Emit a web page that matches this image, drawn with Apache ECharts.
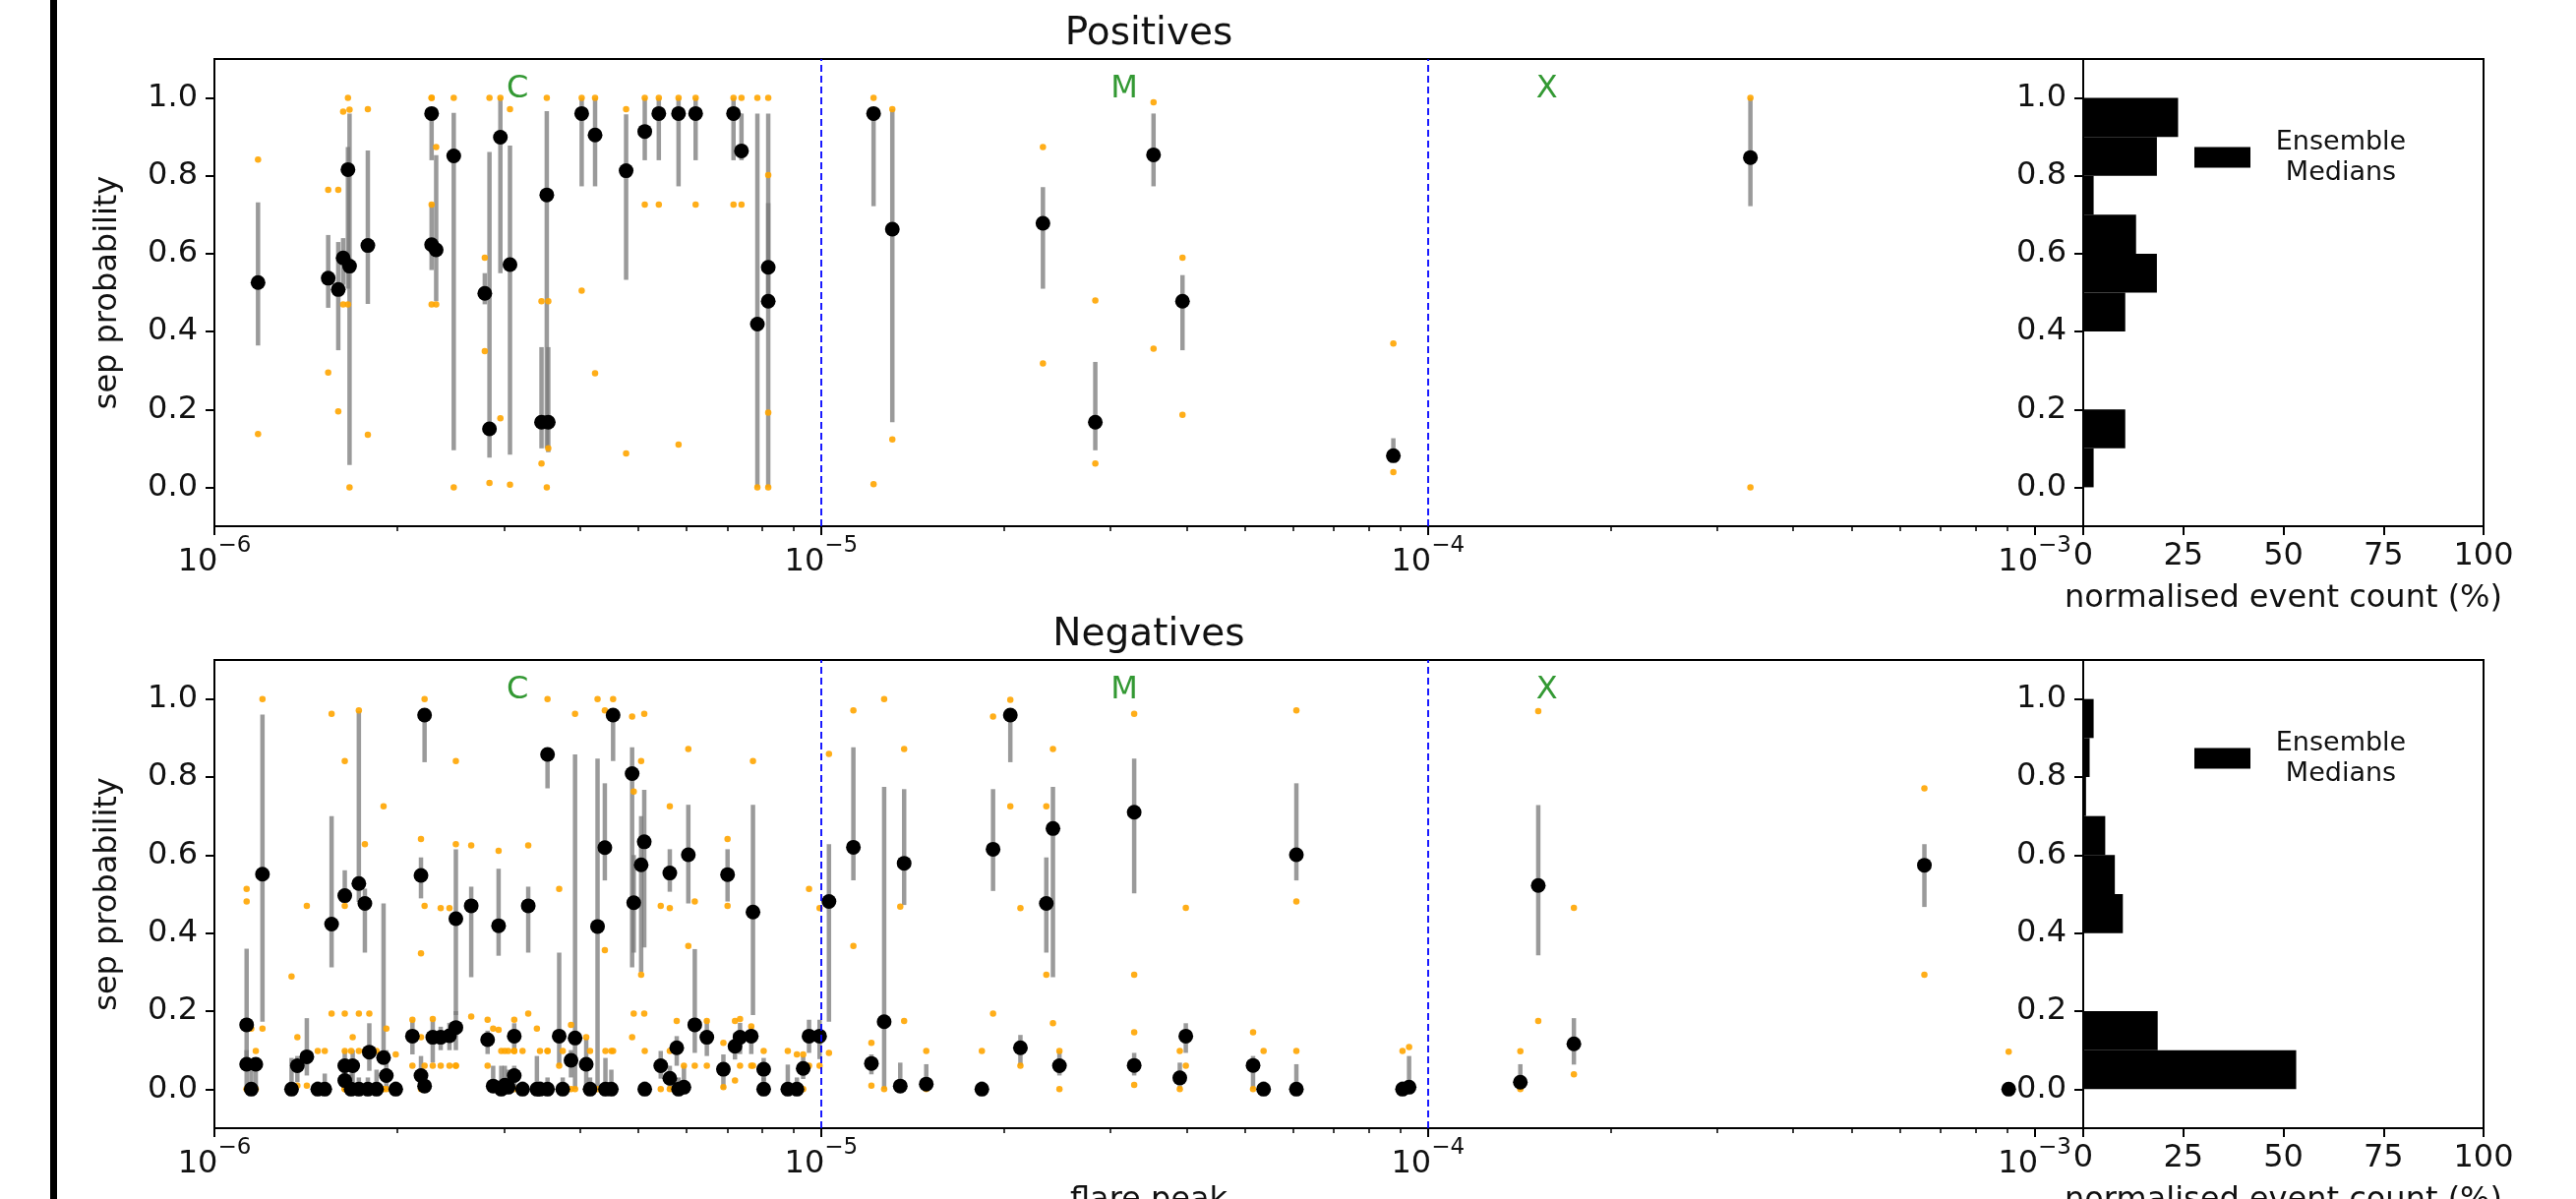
<!DOCTYPE html>
<html>
<head>
<meta charset="utf-8">
<title>sep probability vs flare peak</title>
<script src="https://cdn.jsdelivr.net/npm/echarts@6/dist/echarts.min.js"></script>
<style>
  html, body { margin: 0; padding: 0; background: #fff; }
  #main { width: 2619px; height: 1219px; }
</style>
</head>
<body>
<div id="main"></div>
<script>
// ---- positives: one entry per event ----
const posPeak   = [1.18e-6, 1.54e-6, 1.60e-6, 1.63e-6, 1.66e-6, 1.67e-6, 1.79e-6, 2.28e-6, 2.28e-6, 2.32e-6,
                   2.48e-6, 2.79e-6, 2.84e-6, 2.96e-6, 3.07e-6, 3.46e-6, 3.53e-6, 3.55e-6, 4.03e-6, 4.24e-6,
                   4.77e-6, 5.12e-6, 5.40e-6, 5.82e-6, 6.21e-6, 7.17e-6, 7.39e-6, 7.85e-6, 8.18e-6, 8.18e-6,
                   1.22e-5, 1.31e-5, 2.32e-5, 2.83e-5, 3.53e-5, 3.94e-5, 8.77e-5, 3.40e-4];
const posMedian = [0.526, 0.537, 0.508, 0.589, 0.816, 0.568, 0.621, 0.96, 0.623, 0.61,
                   0.851, 0.498, 0.15, 0.899, 0.572, 0.167, 0.751, 0.167, 0.96, 0.905,
                   0.813, 0.914, 0.96, 0.96, 0.96, 0.96, 0.864, 0.419, 0.565, 0.478,
                   0.96, 0.663, 0.678, 0.167, 0.854, 0.478, 0.081, 0.847];
const posLow    = [0.364, 0.461, 0.352, 0.52, 0.51, 0.057, 0.471, 0.84, 0.558, 0.478,
                   0.095, 0.47, 0.076, 0.55, 0.084, 0.10, 0.10, 0.09, 0.773, 0.773,
                   0.533, 0.84, 0.84, 0.773, 0.84, 0.84, 0.84, 0.0, 0.0, 0.47,
                   0.722, 0.167, 0.51, 0.095, 0.773, 0.352, 0.066, 0.722];
const posHigh   = [0.732, 0.648, 0.630, 0.64, 0.874, 0.96, 0.865, 0.96, 0.73, 0.853,
                   0.962, 0.55, 0.861, 1.0, 0.878, 0.36, 0.966, 0.36, 1.0, 1.0,
                   0.958, 1.0, 1.0, 1.0, 1.0, 1.0, 0.96, 0.96, 0.96, 0.73,
                   0.96, 0.971, 0.771, 0.322, 0.96, 0.545, 0.126, 1.0];
const posMin    = [0.137, 0.295, 0.195, 0.47, 0.47, 0.0, 0.135, 0.726, 0.47, 0.47,
                   0.0, 0.35, 0.011, 0.177, 0.007, 0.061, 0.0, 0.10, 0.505, 0.293,
                   0.087, 0.726, 0.726, 0.11, 0.726, 0.726, 0.726, 0.0, 0.0, 0.192,
                   0.008, 0.123, 0.318, 0.061, 0.356, 0.186, 0.039, 0.0];
const posMax    = [0.842, 0.764, 0.764, 0.965, 1.0, 0.97, 0.971, 1.0, 1.0, 0.874,
                   1.0, 0.59, 1.0, 1.0, 0.971, 0.478, 1.0, 0.478, 1.0, 1.0,
                   0.971, 1.0, 1.0, 1.0, 1.0, 1.0, 1.0, 1.0, 1.0, 0.802,
                   1.0, 0.971, 0.874, 0.48, 0.989, 0.59, 0.369, 1.0];

// ---- negatives: one entry per event ----
const negPeak   = [1.13e-6, 1.13e-6, 1.15e-6, 1.17e-6, 1.20e-6, 1.34e-6, 1.37e-6, 1.42e-6, 1.48e-6, 1.52e-6,
                   1.56e-6, 1.64e-6, 1.64e-6, 1.64e-6, 1.68e-6, 1.69e-6, 1.73e-6, 1.73e-6, 1.77e-6, 1.79e-6,
                   1.80e-6, 1.85e-6, 1.90e-6, 1.92e-6, 1.99e-6, 2.12e-6, 2.19e-6, 2.19e-6, 2.22e-6, 2.22e-6,
                   2.29e-6, 2.36e-6, 2.44e-6, 2.50e-6, 2.50e-6, 2.65e-6, 2.82e-6, 2.88e-6, 2.94e-6, 2.97e-6,
                   3.01e-6, 3.05e-6, 3.12e-6, 3.12e-6, 3.22e-6, 3.29e-6, 3.40e-6, 3.44e-6, 3.54e-6, 3.54e-6,
                   3.70e-6, 3.75e-6, 3.87e-6, 3.93e-6, 4.10e-6, 4.16e-6, 4.28e-6, 4.40e-6, 4.41e-6, 4.51e-6,
                   4.54e-6, 4.88e-6, 4.91e-6, 5.05e-6, 5.11e-6, 5.12e-6, 5.44e-6, 5.63e-6, 5.63e-6, 5.78e-6,
                   5.82e-6, 5.94e-6, 6.04e-6, 6.19e-6, 6.48e-6, 6.90e-6, 7.01e-6, 7.21e-6, 7.35e-6, 7.67e-6,
                   7.72e-6, 8.04e-6, 8.04e-6, 8.81e-6, 9.12e-6, 9.34e-6, 9.55e-6, 9.94e-6, 1.03e-5, 1.13e-5,
                   1.21e-5, 1.27e-5, 1.35e-5, 1.37e-5, 1.49e-5, 1.84e-5, 1.92e-5, 2.05e-5, 2.13e-5, 2.35e-5,
                   2.41e-5, 2.47e-5, 3.28e-5, 3.28e-5, 3.90e-5, 3.99e-5, 5.15e-5, 5.36e-5, 6.07e-5, 6.07e-5,
                   9.08e-5, 9.31e-5, 1.42e-4, 1.52e-4, 1.74e-4, 6.58e-4, 9.06e-4];
const negMedian = [0.165, 0.064, 0.0, 0.064, 0.551, 0.0, 0.06, 0.083, 0.0, 0.0,
                   0.423, 0.496, 0.06, 0.022, 0.0, 0.06, 0.527, 0.0, 0.476, 0.0,
                   0.095, 0.0, 0.081, 0.035, 0.0, 0.136, 0.548, 0.035, 0.959, 0.008,
                   0.133, 0.133, 0.137, 0.437, 0.158, 0.47, 0.127, 0.008, 0.419, 0.0,
                   0.01, 0.005, 0.136, 0.035, 0.0, 0.47, 0.0, 0.0, 0.858, 0.0,
                   0.136, 0.0, 0.074, 0.131, 0.064, 0.0, 0.417, 0.619, 0.0, 0.0,
                   0.959, 0.809, 0.478, 0.575, 0.634, 0.0, 0.06, 0.554, 0.028, 0.106,
                   0.0, 0.005, 0.601, 0.165, 0.133, 0.051, 0.55, 0.11, 0.133, 0.136,
                   0.454, 0.051, 0.0, 0.0, 0.0, 0.053, 0.136, 0.136, 0.481, 0.62,
                   0.066, 0.173, 0.008, 0.579, 0.013, 0.0, 0.615, 0.959, 0.106, 0.476,
                   0.668, 0.06, 0.71, 0.061, 0.029, 0.136, 0.061, 0.0, 0.601, 0.0,
                   0.0, 0.005, 0.018, 0.522, 0.116, 0.574, 0.0];
const negLow    = [0.07, 0.0, 0.0, 0.0, 0.173, 0.0, 0.018, 0.035, 0.0, 0.0,
                   0.312, 0.48, 0.02, 0.0, 0.0, 0.0, 0.48, 0.0, 0.35, 0.0,
                   0.047, 0.0, 0.068, 0.0, 0.0, 0.089, 0.489, 0.0, 0.838, 0.0,
                   0.068, 0.10, 0.10, 0.19, 0.10, 0.287, 0.09, 0.0, 0.342, 0.0,
                   0.0, 0.0, 0.102, 0.0, 0.0, 0.35, 0.0, 0.0, 0.771, 0.0,
                   0.06, 0.0, 0.03, 0.0, 0.0, 0.0, 0.0, 0.535, 0.0, 0.0,
                   0.841, 0.312, 0.35, 0.30, 0.363, 0.0, 0.027, 0.506, 0.0, 0.06,
                   0.0, 0.0, 0.476, 0.093, 0.085, 0.0, 0.481, 0.076, 0.09, 0.09,
                   0.19, 0.02, 0.0, 0.0, 0.0, 0.026, 0.093, 0.077, 0.173, 0.535,
                   0.038, 0.0, 0.0, 0.472, 0.0, 0.0, 0.508, 0.838, 0.06, 0.35,
                   0.287, 0.035, 0.502, 0.035, 0.0, 0.093, 0.0, 0.0, 0.535, 0.0,
                   0.0, 0.0, 0.0, 0.343, 0.063, 0.467, 0.0];
const negHigh   = [0.36, 0.10, 0.06, 0.07, 0.96, 0.08, 0.085, 0.182, 0.02, 0.04,
                   0.70, 0.561, 0.10, 0.06, 0.04, 0.10, 0.969, 0.03, 0.514, 0.03,
                   0.169, 0.05, 0.476, 0.10, 0.02, 0.178, 0.594, 0.085, 0.959, 0.04,
                   0.178, 0.16, 0.17, 0.615, 0.20, 0.519, 0.15, 0.06, 0.565, 0.06,
                   0.06, 0.05, 0.169, 0.06, 0.02, 0.519, 0.085, 0.02, 0.858, 0.03,
                   0.35, 0.03, 0.10, 0.858, 0.13, 0.03, 0.847, 0.784, 0.08, 0.05,
                   0.959, 0.876, 0.60, 0.70, 0.767, 0.02, 0.098, 0.615, 0.06, 0.136,
                   0.03, 0.06, 0.729, 0.359, 0.178, 0.089, 0.615, 0.144, 0.17, 0.16,
                   0.729, 0.08, 0.03, 0.063, 0.03, 0.085, 0.178, 0.178, 0.628, 0.876,
                   0.089, 0.775, 0.068, 0.769, 0.064, 0.02, 0.769, 0.959, 0.139, 0.594,
                   0.775, 0.098, 0.847, 0.093, 0.068, 0.169, 0.085, 0.02, 0.784, 0.064,
                   0.02, 0.085, 0.064, 0.728, 0.182, 0.628, 0.0];
const negMin    = [0.0, 0.0, 0.0, 0.0, 0.155, 0.0, 0.009, 0.009, 0.0, 0.0,
                   0.194, 0.47, 0.0, 0.0, 0.0, 0.0, 0.194, 0.0, 0.098, 0.0,
                   0.0, 0.0, 0.0, 0.0, 0.0, 0.06, 0.348, 0.0, 0.47, 0.0,
                   0.06, 0.06, 0.06, 0.06, 0.06, 0.186, 0.06, 0.0, 0.152, 0.0,
                   0.0, 0.0, 0.098, 0.0, 0.0, 0.194, 0.0, 0.0, 0.098, 0.0,
                   0.06, 0.0, 0.0, 0.0, 0.0, 0.0, 0.0, 0.356, 0.0, 0.0,
                   0.098, 0.133, 0.194, 0.293, 0.194, 0.0, 0.0, 0.464, 0.0, 0.0,
                   0.0, 0.0, 0.367, 0.06, 0.06, 0.005, 0.47, 0.022, 0.06, 0.06,
                   0.06, 0.0, 0.0, 0.0, 0.0, 0.0, 0.06, 0.06, 0.093, 0.367,
                   0.009, 0.0, 0.0, 0.175, 0.0, 0.0, 0.194, 0.725, 0.06, 0.293,
                   0.169, 0.0, 0.293, 0.011, 0.0, 0.06, 0.0, 0.0, 0.481, 0.0,
                   0.0, 0.0, 0.0, 0.175, 0.038, 0.293, 0.0];
const negMax    = [0.513, 0.481, 0.155, 0.098, 1.0, 0.289, 0.133, 0.47, 0.098, 0.098,
                   0.962, 0.841, 0.194, 0.098, 0.098, 0.133, 0.971, 0.098, 0.628, 0.098,
                   0.194, 0.098, 0.725, 0.155, 0.089, 0.178, 0.641, 0.133, 1.0, 0.06,
                   0.18, 0.464, 0.464, 0.841, 0.628, 0.625, 0.178, 0.155, 0.611, 0.098,
                   0.098, 0.098, 0.178, 0.098, 0.098, 0.625, 0.155, 0.098, 1.0, 0.098,
                   0.513, 0.098, 0.165, 0.962, 0.133, 0.098, 1.0, 0.971, 0.098, 0.098,
                   1.0, 0.955, 0.763, 0.841, 0.962, 0.098, 0.47, 0.725, 0.098, 0.175,
                   0.098, 0.06, 0.872, 0.481, 0.175, 0.119, 0.641, 0.175, 0.18, 0.161,
                   0.841, 0.098, 0.06, 0.098, 0.089, 0.089, 0.513, 0.464, 0.859, 0.971,
                   0.119, 1.0, 0.468, 0.872, 0.098, 0.098, 0.955, 0.998, 0.464, 0.725,
                   0.872, 0.098, 0.962, 0.146, 0.098, 0.465, 0.146, 0.098, 0.971, 0.098,
                   0.098, 0.108, 0.097, 0.969, 0.465, 0.771, 0.096];

// ---- histograms of the medians (percent of events per 0.1 bin) ----
const binStarts  = [0.0, 0.1, 0.2, 0.3, 0.4, 0.5, 0.6, 0.7, 0.8, 0.9];
const binWidth   = 0.1;
const posHistPct = [2.6, 10.5, 0, 0, 10.5, 18.4, 13.2, 2.6, 18.4, 23.7];
const negHistPct = [53.2, 18.6, 0, 0, 9.9, 7.9, 5.5, 0.7, 1.6, 2.6];

// ---- ticks, class boundaries and class labels ----
const probTicks   = [0, 0.2, 0.4, 0.6, 0.8, 1.0];
const decadeTicks = [-6, -5, -4, -3];
const boundaries  = [1e-5, 1e-4];
const classNames  = ['C', 'M', 'X'];
const classPeak   = [3.16e-6, 3.16e-5, 1.57e-4];
const classLabelY = 1.022;

const FONT = 'DejaVu Sans';
const INK = '#111';

// minor log ticks 2..9 x 10^n
const minorTicks = [];
for (let d = -6; d < -3; d++) for (let k = 2; k <= 9; k++) minorTicks.push(d + Math.log10(k));

const panels = [
  {title: 'Positives', top: 60, height: 475, peak: posPeak, med: posMedian, lo: posLow, hi: posHigh, mn: posMin, mx: posMax, hist: posHistPct, xname: ''},
  {title: 'Negatives', top: 671, height: 476, peak: negPeak, med: negMedian, lo: negLow, hi: negHigh, mn: negMin, mx: negMax, hist: negHistPct, xname: 'flare peak'}
];

const lineSt = {color: '#000', width: 2};
const grid = [], xAxis = [], yAxis = [], series = [], title = [], legend = [];

panels.forEach((p, i) => {
  const gMain = 2 * i, gHist = 2 * i + 1;
  const xMain = 3 * i, xHist = 3 * i + 2;
  const yMain = 2 * i, yHist = 2 * i + 1;

  // outerBoundsMode none: keep the grids where matplotlib put them, even if labels run off the page
  grid.push({left: 218, top: p.top, width: 1900, height: p.height, show: true, borderColor: '#000', borderWidth: 2,
    backgroundColor: 'transparent', outerBoundsMode: 'none', containLabel: false});
  grid.push({left: 2118, top: p.top, width: 407, height: p.height, show: true, borderColor: '#000', borderWidth: 2,
    backgroundColor: 'transparent', outerBoundsMode: 'none', containLabel: false});

  title.push({text: p.title, left: 1168, top: p.top - 45, textAlign: 'center', padding: 0,
    textStyle: {fontFamily: FONT, fontSize: 39, fontWeight: 'normal', color: INK}});

  // main x axis (log10 of flare peak)
  xAxis.push({
    gridIndex: gMain, type: 'value', min: -6, max: -2.92, position: 'bottom',
    axisLine: {show: true, onZero: false, lineStyle: lineSt},
    axisTick: {show: true, customValues: decadeTicks, length: 9, lineStyle: lineSt},
    axisLabel: {
      customValues: decadeTicks, margin: 9,
      formatter: v => '{b|10}{s|\u2212' + Math.abs(Math.round(v)) + '}',
      rich: {
        b: {fontFamily: FONT, fontSize: 32, lineHeight: 44, verticalAlign: 'bottom', color: INK},
        s: {fontFamily: FONT, fontSize: 23, lineHeight: 20, verticalAlign: 'top', color: INK}
      }
    },
    splitLine: {show: false},
    name: p.xname, nameLocation: 'middle', nameGap: 58,
    nameTextStyle: {fontFamily: FONT, fontSize: 32, color: INK}
  });
  // minor ticks on the same grid
  xAxis.push({
    gridIndex: gMain, type: 'value', min: -6, max: -2.92, position: 'bottom',
    axisLine: {show: false, onZero: false},
    axisTick: {show: true, customValues: minorTicks, length: 5, lineStyle: {color: '#000', width: 1.5}},
    axisLabel: {show: false}, splitLine: {show: false}
  });
  // histogram x axis
  xAxis.push({
    gridIndex: gHist, type: 'value', min: 0, max: 100, interval: 25, position: 'bottom',
    axisLine: {show: true, onZero: false, lineStyle: lineSt},
    axisTick: {show: true, length: 9, lineStyle: lineSt},
    axisLabel: {fontFamily: FONT, fontSize: 32, color: INK, margin: 15},
    splitLine: {show: false},
    name: 'normalised event count (%)', nameLocation: 'middle', nameGap: 58,
    nameTextStyle: {fontFamily: FONT, fontSize: 32, color: INK}
  });

  yAxis.push({
    gridIndex: gMain, type: 'value', min: -0.1, max: 1.1,
    axisLine: {show: true, onZero: false, lineStyle: lineSt},
    axisTick: {show: true, customValues: probTicks, length: 9, lineStyle: lineSt},
    axisLabel: {customValues: probTicks, formatter: v => v.toFixed(1), fontFamily: FONT, fontSize: 32, color: INK, margin: 17},
    splitLine: {show: false},
    name: 'sep probability', nameLocation: 'middle', nameGap: 92,
    nameTextStyle: {fontFamily: FONT, fontSize: 32, color: INK}
  });
  yAxis.push({
    gridIndex: gHist, type: 'value', min: -0.1, max: 1.1,
    axisLine: {show: true, onZero: false, lineStyle: lineSt},
    axisTick: {show: true, customValues: probTicks, length: 9, lineStyle: lineSt},
    axisLabel: {customValues: probTicks, formatter: v => v.toFixed(1), fontFamily: FONT, fontSize: 32, color: INK, margin: 17},
    splitLine: {show: false}
  });

  const lx = p.peak.map(v => Math.log10(v));

  // spread bars
  series.push({
    type: 'custom', xAxisIndex: xMain, yAxisIndex: yMain, z: 2, silent: true,
    encode: {x: 0, y: [1, 2]},
    data: lx.map((x, k) => [x, p.lo[k], p.hi[k]]),
    renderItem: (params, api) => {
      const a = api.coord([api.value(0), api.value(1)]);
      const b = api.coord([api.value(0), api.value(2)]);
      return {type: 'line', shape: {x1: a[0], y1: a[1], x2: b[0], y2: b[1]},
        style: {stroke: 'rgba(120,120,120,0.75)', lineWidth: 4.5}};
    }
  });
  // ensemble extremes
  const ext = [];
  lx.forEach((x, k) => { ext.push([x, p.mn[k]]); ext.push([x, p.mx[k]]); });
  series.push({
    type: 'scatter', xAxisIndex: xMain, yAxisIndex: yMain, z: 3, silent: true,
    symbolSize: 6.5, itemStyle: {color: '#ffa500', opacity: 0.9},
    data: ext
  });
  // medians + class boundaries
  series.push({
    type: 'scatter', xAxisIndex: xMain, yAxisIndex: yMain, z: 4, silent: true,
    symbolSize: 15, itemStyle: {color: '#000', opacity: 1},
    data: lx.map((x, k) => [x, p.med[k]]),
    markLine: {
      silent: true, symbol: 'none', label: {show: false},
      lineStyle: {color: '#0000ff', type: [7, 4], width: 2, opacity: 0.9},
      data: boundaries.map(b => ({xAxis: Math.log10(b)}))
    }
  });
  // class letters
  series.push({
    type: 'scatter', xAxisIndex: xMain, yAxisIndex: yMain, z: 5, silent: true,
    symbolSize: 1, itemStyle: {color: 'rgba(0,0,0,0)'},
    label: {show: true, position: 'inside', formatter: q => q.name, fontFamily: FONT, fontSize: 32, color: '#008000'},
    data: classNames.map((n, k) => ({name: n, value: [Math.log10(classPeak[k]), classLabelY]}))
  });
  // histogram
  series.push({
    type: 'custom', name: 'Ensemble Medians', xAxisIndex: xHist, yAxisIndex: yHist, silent: true,
    itemStyle: {color: '#000'},
    encode: {x: 2, y: [0, 1]},
    data: binStarts.map((s, k) => [s, s + binWidth, p.hist[k]]),
    renderItem: (params, api) => {
      const a = api.coord([0, api.value(0)]);
      const b = api.coord([api.value(2), api.value(1)]);
      return {type: 'rect', shape: {x: a[0], y: b[1], width: b[0] - a[0], height: a[1] - b[1]},
        style: {fill: '#000'}};
    }
  });

  legend.push({
    data: [{name: 'Ensemble Medians', icon: 'rect'}],
    left: 2231, top: p.top + 71, padding: 0, selectedMode: false,
    itemWidth: 57, itemHeight: 21,
    formatter: () => '{t|Ensemble}\n{t|Medians}',
    textStyle: {fontFamily: FONT, fontSize: 27, color: INK,
      rich: {t: {fontFamily: FONT, fontSize: 27, lineHeight: 31, width: 174, align: 'center', color: INK}}}
  });
});

const chart = echarts.init(document.getElementById('main'), null, {renderer: 'canvas'});
chart.setOption({
  animation: false,
  backgroundColor: '#fff',
  textStyle: {fontFamily: FONT},
  title, legend, grid, xAxis, yAxis, series,
  graphic: [{type: 'rect', left: 51, top: 0, shape: {width: 7, height: 1219}, style: {fill: '#000'}}]
});
</script>
</body>
</html>
